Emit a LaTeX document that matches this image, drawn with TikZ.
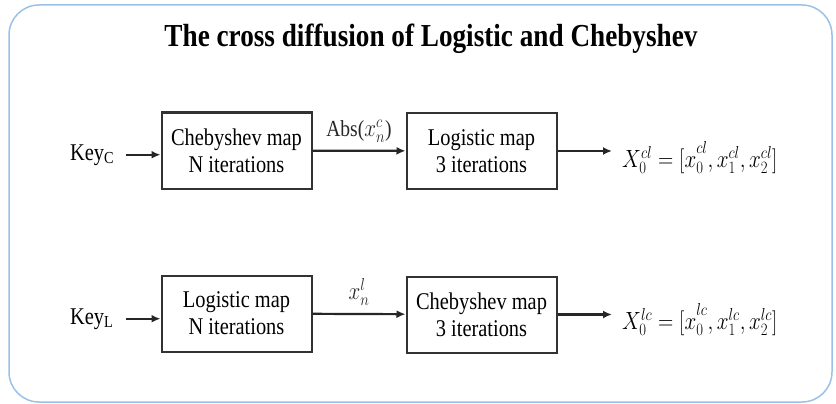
\documentclass[tikz,border=0pt]{standalone}
\usepackage{fontspec}
\setmainfont{Liberation Serif}
\usepackage{tikz}
\definecolor{framecol}{RGB}{155, 194, 230}
\definecolor{boxline}{RGB}{50, 50, 50}
\newcommand{\narrowtext}[1]{\scalebox{0.85}[1]{#1}}
\usetikzlibrary{positioning}
\usetikzlibrary{arrows.meta}

\begin{document}
\begin{tikzpicture}[
  mapbox/.style={rectangle, draw=boxline, line width=2pt, minimum width=150pt, minimum height=76pt, align=center, font=\fontsize{24}{27}\selectfont, inner sep=0pt},
  keytext/.style={font=\fontsize{24}{27}\selectfont, inner sep=0pt, anchor=base west},
  result/.style={font=\fontsize{23}{26}\selectfont, inner xsep=10pt, inner ysep=0pt, anchor=west},
  flowlabel/.style={font=\fontsize{23}{26}\selectfont, inner sep=0pt},
  flow/.style={line width=2.2pt, color=black!85, -{Latex[length=9pt, width=8pt]}}]
\useasboundingbox (0pt, 0pt) rectangle (836pt, -404pt);
\draw [framecol, line width=1.5pt, rounded corners=30pt] (9pt, -5pt) rectangle (832pt, -402pt);
\node (title) [font=\fontsize{32}{36}\selectfont\bfseries, anchor=base] at (431pt, -47pt) {\narrowtext{The cross diffusion of Logistic and Chebyshev}};
% first row: Chebyshev then Logistic
\node (keyC) [keytext] at (70pt, -160pt) {\narrowtext{Key\textsubscript{C}}};
\node (cheb1) [mapbox] at (236.5pt, -150.5pt) {\narrowtext{Chebyshev map}\\\narrowtext{N iterations}};
\node (logi1) [mapbox] at (481.5pt, -151pt) {\narrowtext{Logistic map}\\\narrowtext{3 iterations}};
\node (res1) [result] at (612pt, -160pt) {\narrowtext{$X_0^{cl} = [x_0^{\smash{\raisebox{5pt}{$\scriptstyle cl$}}}, x_1^{cl}, x_2^{cl}]$}};
\draw [flow, shorten <=12pt] (keyC.east) -- (keyC.east -| cheb1.west);
\draw [flow] (cheb1) -- node [flowlabel, above=7pt] {\narrowtext{Abs($x_n^c$)}} (logi1);
\draw [flow] (logi1.east) -- (logi1.east -| res1.west);
% second row: Logistic then Chebyshev
\node (keyL) [keytext] at (70pt, -324pt) {\narrowtext{Key\textsubscript{L}}};
\node (logi2) [mapbox] at (236.5pt, -313.5pt) {\narrowtext{Logistic map}\\\narrowtext{N iterations}};
\node (cheb2) [mapbox] at (481.5pt, -314.5pt) {\narrowtext{Chebyshev map}\\\narrowtext{3 iterations}};
\node (res2) [result] at (612pt, -322pt) {\narrowtext{$X_0^{lc} = [x_0^{\smash{\raisebox{5pt}{$\scriptstyle lc$}}}, x_1^{lc}, x_2^{lc}]$}};
\draw [flow, shorten <=12pt] (keyL.east) -- (keyL.east -| logi2.west);
\draw [flow] (logi2) -- node [flowlabel, above=7pt] {\narrowtext{$x_n^l$}} (cheb2);
\draw [flow] (cheb2.east) -- (cheb2.east -| res2.west);
\end{tikzpicture}
\end{document}
